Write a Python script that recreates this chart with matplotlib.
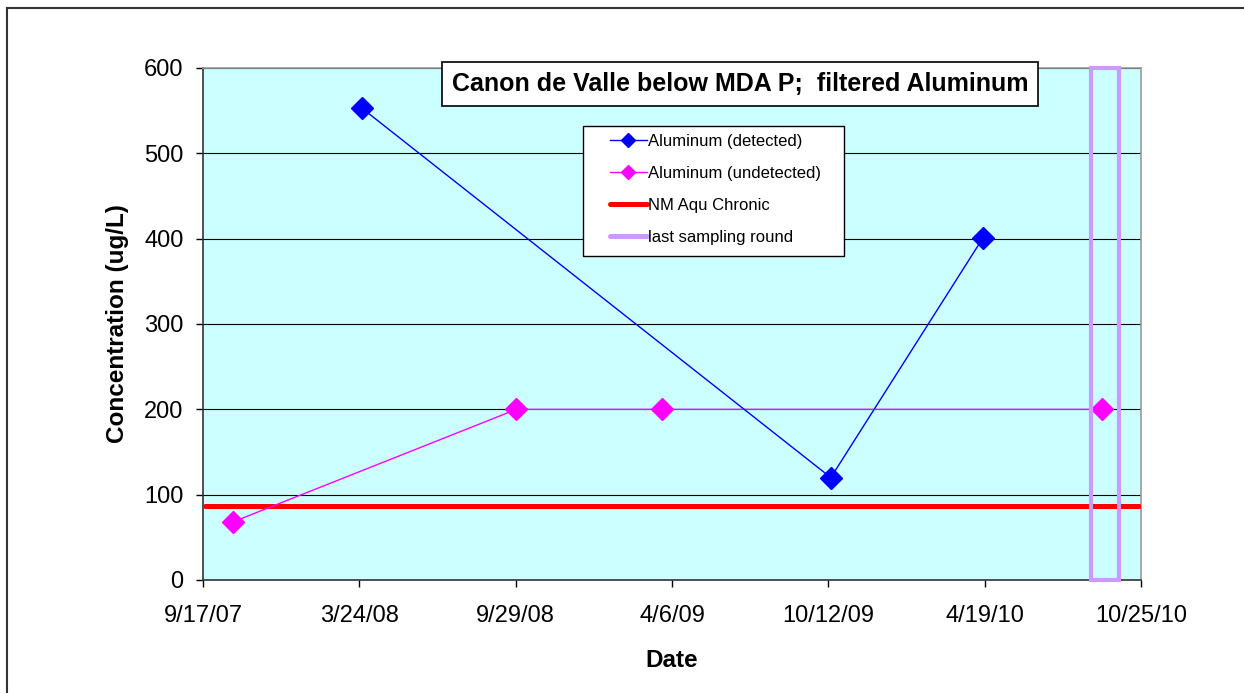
import matplotlib
matplotlib.use("Agg")
from matplotlib import pyplot as plt
import matplotlib.dates as mdates
from matplotlib.patches import Rectangle
import datetime as dt

plt.rcParams['font.family'] = ['Liberation Sans', 'DejaVu Sans']

# data
detected_dates = ["2008-03-27", "2009-10-15", "2010-04-17"]
detected_vals = [553, 120, 401]
undetected_dates = ["2007-10-23", "2008-09-30", "2009-03-25", "2010-09-08"]
undetected_vals = [68, 200, 200, 200]
nm_aqu_chronic = 87
last_round = ("2010-08-25", "2010-09-28")
tick_labels = ["9/17/07", "3/24/08", "9/29/08", "4/6/09", "10/12/09", "4/19/10", "10/25/10"]


def to_num(s):
    return mdates.date2num(dt.datetime.strptime(s, "%Y-%m-%d"))


def tick_num(s):
    return mdates.date2num(dt.datetime.strptime(s, "%m/%d/%y"))


fig = plt.figure(figsize=(12.44, 6.93), dpi=100)
W, H = 1244, 693
ax = fig.add_axes([203 / W, 1 - 580 / H, (1141 - 203) / W, (580 - 68) / H])
ax.set_facecolor("#CCFFFF")

xt = [tick_num(t) for t in tick_labels]
ax.set_xlim(xt[0], xt[-1])
ax.set_ylim(0, 600)

# gridlines
ax.set_yticks(range(0, 601, 100))
ax.grid(axis="y", color="black", linewidth=0.8)
ax.set_axisbelow(True)

# threshold line
ax.plot([xt[0] + 2, xt[-1] - 3], [nm_aqu_chronic] * 2, color="#FF0000", linewidth=3.6,
        solid_capstyle="round", label="NM Aqu Chronic", zorder=3)

ax.plot([to_num(d) for d in undetected_dates], undetected_vals, color="#FF00FF",
        linewidth=1, marker="D", markersize=11, label="Aluminum (undetected)", zorder=4)
ax.plot([to_num(d) for d in detected_dates], detected_vals, color="#0000FF",
        linewidth=1, marker="D", markersize=11, label="Aluminum (detected)", zorder=4)

# last sampling round box
x0, x1 = to_num(last_round[0]), to_num(last_round[1])
ax.add_patch(Rectangle((x0, 0), x1 - x0, 600, fill=False, edgecolor="#CC99FF",
                       linewidth=3, zorder=5, clip_on=False))
ax.plot([], [], color="#CC99FF", linewidth=3.6, solid_capstyle="round", label="last sampling round")

ax.set_xticks(xt)
ax.set_xticklabels(tick_labels)
ax.tick_params(axis="both", direction="out", length=5, width=1, labelsize=17, colors="black")
ax.tick_params(axis="x", pad=13)
ax.tick_params(axis="y", pad=9)
for s in ["left", "bottom"]:
    ax.spines[s].set_color("#333333")
    ax.spines[s].set_linewidth(1.2)
for s in ["top", "right"]:
    ax.spines[s].set_color("#999999")
    ax.spines[s].set_linewidth(1.2)

ax.set_ylabel("Concentration (ug/L)", fontsize=17.5, fontweight="bold", labelpad=11)
ax.set_xlabel("Date", fontsize=17.5, fontweight="bold", labelpad=16)

# legend frame drawn by hand, legend itself without frame
fig.add_artist(Rectangle((583 / W, 1 - 256 / H), (844 - 583) / W, (256 - 126) / H,
                         transform=fig.transFigure, facecolor="white", edgecolor="black",
                         linewidth=1, zorder=6))
handles, labels = ax.get_legend_handles_labels()
order = ["Aluminum (detected)", "Aluminum (undetected)", "NM Aqu Chronic", "last sampling round"]
hmap = dict(zip(labels, handles))
leg = fig.legend([hmap[k] for k in order], order, loc="upper left",
                 bbox_to_anchor=(610 / W, 1 - 134 / H), fontsize=12, frameon=False,
                 handlelength=2.2, handletextpad=0.05, labelspacing=1.02, borderpad=0,
                 borderaxespad=0, markerscale=0.65)
leg.set_zorder(7)

fig.text(740 / W, 1 - 84 / H, "Canon de Valle below MDA P;  filtered Aluminum", fontsize=18,
         fontweight="bold", ha="center", va="center",
         bbox=dict(boxstyle="square,pad=0.4", facecolor="white", edgecolor="black", linewidth=1.2))

# outer chart frame
fig.add_artist(plt.Line2D([7.5 / W, 7.5 / W], [0, 1 - 8 / H], color="#333333", linewidth=1.5))
fig.add_artist(plt.Line2D([7.5 / W, 1], [1 - 8 / H, 1 - 8 / H], color="#333333", linewidth=1.5))

fig.savefig("out.png", dpi=100)
